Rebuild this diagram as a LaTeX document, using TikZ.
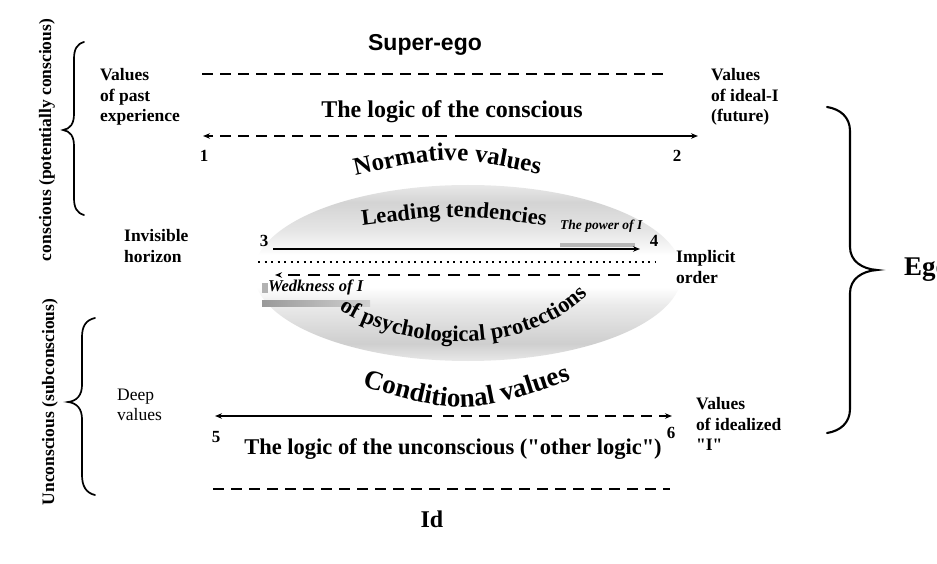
\documentclass[tikz,border=0pt]{standalone}
\usepackage{fontspec}
\setmainfont{Liberation Serif}
\setsansfont{Liberation Sans}
\usetikzlibrary{arrows.meta,decorations.text}
\pgfdeclareverticalshading{ellshade}{100bp}{color(0bp)=(black!9); color(25bp)=(black!9); color(30bp)=(black!19); color(41bp)=(black!8); color(46bp)=(white); color(55bp)=(white); color(62bp)=(black!10); color(70bp)=(black!17); color(75bp)=(black!9); color(100bp)=(black!9)}
\newcommand\nvfont{\bfseries\fontsize{25}{25}\selectfont}
\newcommand\ltfont{\bfseries\fontsize{22.5}{22.5}\selectfont}
\newcommand\ppfont{\bfseries\fontsize{22.5}{22.5}\selectfont}
\newcommand\cvfont{\bfseries\fontsize{27}{27}\selectfont}
\begin{document}
\begin{tikzpicture}[x=1pt,y=1pt,
  lbl/.style={inner sep=0pt, font=\bfseries\fontsize{17.5}{20.5}\selectfont, align=left, anchor=west},
  lblr/.style={inner sep=0pt, font=\fontsize{17.5}{20}\selectfont, align=left, anchor=west},
  num/.style={inner sep=0pt, font=\bfseries\fontsize{17}{17}\selectfont, anchor=base},
  big/.style={inner sep=0pt, font=\bfseries\fontsize{24}{24}\selectfont, anchor=base},
  sidetxt/.style={inner sep=0pt, font=\bfseries\fontsize{17.5}{17.5}\selectfont, rotate=90},
  dline/.style={line width=1.8pt, dash pattern=on 11pt off 7pt},
  sline/.style={line width=1.6pt},
  tip/.style={-{Stealth[length=7pt,width=5.5pt]}},
  bracestyle/.style={line width=1.7pt, line cap=round}]

\useasboundingbox (0,0) rectangle (937,563);
\fill[white] (0,0) rectangle (937,563);

% ellipse
\shade[shading=ellshade] (468,290) ellipse [x radius=214, y radius=88];
\fill[black!28] (560,320) rectangle (635,316);
\fill[left color=black!40, right color=black!18] (262,262) rectangle (370,256);
\fill[black!30] (262,280) rectangle (268,270);

% titles
\node[inner sep=0pt, anchor=base, font=\sffamily\bfseries\fontsize{23}{23}\selectfont] (sup) at (425,512) {Super-ego};
\node[big] (lc) at (452,445) {The logic of the conscious};
\node[big, font=\bfseries\fontsize{22.5}{22.5}\selectfont] (lu) at (453,109) {The logic of the unconscious (\textquotedbl other logic\textquotedbl)};
\node[big] (id) at (432,36) {Id};

% dashed borders
\coordinate (tdL) at (202,489); \coordinate (tdR) at (668,489);
\draw[dline] (tdL) -- (tdR);
\coordinate (bdL) at (213,74); \coordinate (bdR) at (670,74);
\draw[dline] (bdL) -- (bdR);

% arrow 1-2
\coordinate (c1L) at (203,427); \coordinate (c1M) at (447,427);
\coordinate (c1N) at (455,427); \coordinate (c1R) at (698,427);
\draw[dline, tip] (c1M) -- (c1L);
\draw[sline, tip] (c1N) -- (c1R);
\node[num] (n1) at (204,401) {1};
\node[num] (n2) at (677,401) {2};

% arrow 5-6
\coordinate (c5L) at (215,147); \coordinate (c5M) at (432,147);
\coordinate (c5N) at (443,147); \coordinate (c5R) at (672,147);
\draw[sline, tip] (c5M) -- (c5L);
\draw[dline, tip] (c5N) -- (c5R);
\node[num] (n5) at (216,121) {5};
\node[num] (n6) at (671,125) {6};

% inner arrows
\node[num] (n3) at (264,316) {3};
\node[num] (n4) at (654,316) {4};
\coordinate (c3L) at (273,314); \coordinate (c3R) at (640,314);
\draw[sline, tip] (c3L) -- (c3R);
\coordinate (dtL) at (258,301); \coordinate (dtR) at (655,301);
\draw[line width=2pt, dash pattern=on 2pt off 4.5pt] (dtL) -- (dtR);
\coordinate (c4R) at (640,288); \coordinate (c4L) at (275,288);
\draw[line width=1.8pt, dash pattern=on 12pt off 8pt, tip] (c4R) -- (c4L);

\node[inner sep=0pt, anchor=base west, font=\bfseries\itshape\fontsize{13.5}{13.5}\selectfont] (pow) at (560,333) {The power of I};
\node[inner sep=0pt, anchor=base west, font=\bfseries\itshape\fontsize{16.5}{16.5}\selectfont] (wk) at (268,271) {Wedkness of I};

% curved texts
\path[decorate, decoration={text along path, text={|\nvfont|Normative values}, text align=center}]
  (346,385) .. controls (448,408) .. (549,387);
\path[decorate, decoration={text along path, text={|\ltfont|Leading tendencies}, text align=center}]
  (358,337) .. controls (453,349) .. (550,337);
\path[decorate, decoration={text along path, text={|\ppfont|of psychological protections}, text align=center}]
  (334,257) .. controls (390,216) and (520,198) .. (592,272);
\path[decorate, decoration={text along path, text={|\cvfont|Conditional values}, text align=center}]
  (344,182) .. controls (465,146) .. (589,189);

% side labels
\node[lbl] (vpe) at (100,466) {Values\\of past\\experience};
\node[lbl] (ih) at (124,317) {Invisible\\horizon};
\node[lblr] (dv) at (117,158) {Deep\\values};
\node[lbl] (vif) at (711,466) {Values\\of ideal-I\\(future)};
\node[lbl] (io) at (676,296) {Implicit\\order};
\node[lbl] (vid) at (696,139) {Values\\of idealized\\\textquotedbl I\textquotedbl};
\node[inner sep=0pt, anchor=west, font=\bfseries\fontsize{27}{27}\selectfont] (ego) at (904,293) {Ego};

\node[sidetxt] (cons) at (47,423) {conscious (potentially conscious)};
\node[sidetxt] (uncons) at (50,161) {Unconscious (subconscious)};

% braces
\draw[bracestyle] (84,521) .. controls (77,519) and (74,514) .. (74,504) -- (74,449)
  .. controls (74,439) and (70,434) .. (63,433) .. controls (70,432) and (74,427) .. (74,417)
  -- (74,365) .. controls (74,355) and (77,350) .. (84,348);
\draw[bracestyle] (95,245) .. controls (86,243) and (82,237) .. (82,226) -- (82,178)
  .. controls (82,168) and (77,162) .. (68,161) .. controls (77,160) and (82,154) .. (82,144)
  -- (82,88) .. controls (82,77) and (86,70) .. (95,68);
\draw[bracestyle, line width=2.1pt] (827,456) .. controls (840,454) and (850,446) .. (850,432) -- (850,316)
  .. controls (850,302) and (862,294) .. (877,293) .. controls (862,292) and (850,284) .. (850,270)
  -- (850,154) .. controls (850,140) and (840,132) .. (827,130);
\end{tikzpicture}
\end{document}
